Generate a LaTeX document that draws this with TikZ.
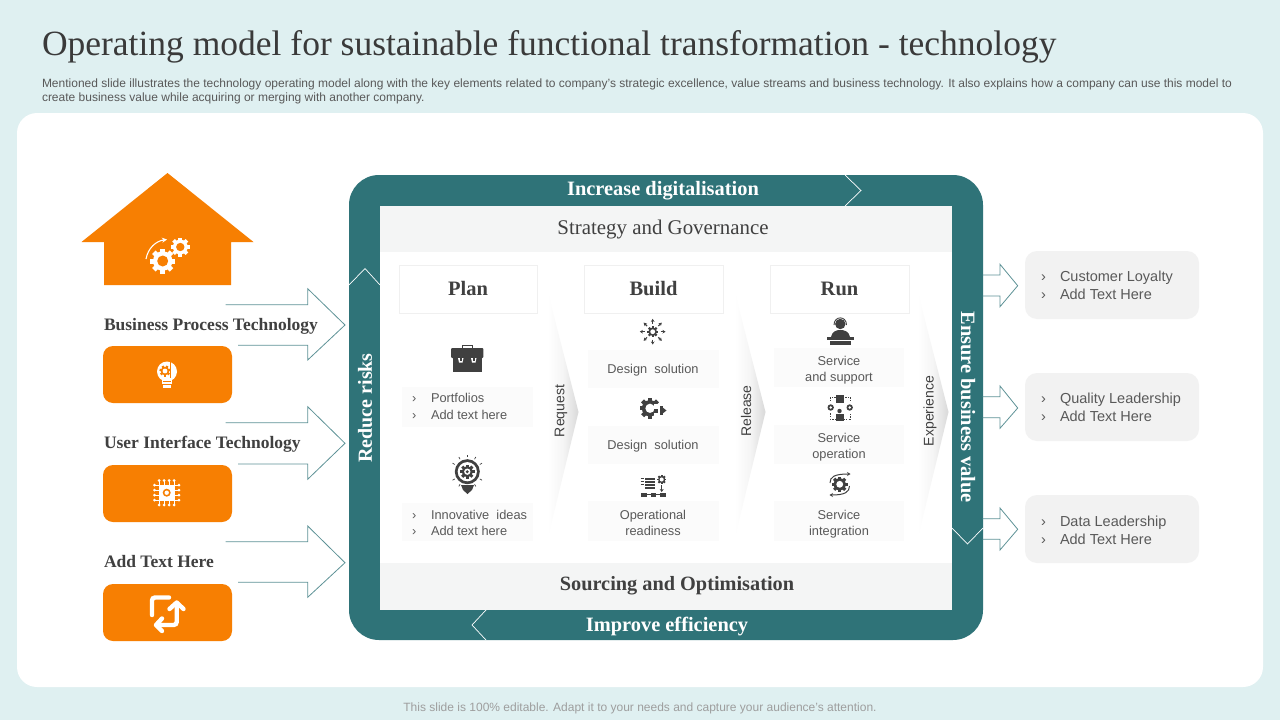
\documentclass[tikz,border=0pt]{standalone}
\usepackage{fontspec}
\setmainfont{Liberation Sans}
\newfontfamily\pal{Liberation Serif}
\usetikzlibrary{arrows.meta}
\definecolor{bgc}{HTML}{DFF0F1}
\definecolor{teal}{HTML}{2F7378}
\definecolor{orng}{HTML}{F77F02}
\definecolor{ink}{HTML}{404040}
\definecolor{txt}{HTML}{595959}
\definecolor{band}{HTML}{F4F5F5}
\definecolor{soft}{HTML}{FBFBFB}
\definecolor{pill}{HTML}{F2F2F2}
\definecolor{edge}{HTML}{F0F0F0}
\definecolor{arw}{HTML}{5E9297}
\pgfdeclarehorizontalshading{chev}{100bp}{color(0bp)=(white); color(25bp)=(white); color(50bp)=(black!4); color(75bp)=(black!15); color(100bp)=(black!15)}
\newcommand{\fs}[1]{\fontsize{#1}{#1}\selectfont}
\newcommand{\gearico}[6]{% x,y,r,teeth,fg,bg
  \fill[#5] (#1,#2) circle[radius=#3*0.78];
  \foreach \a in {1,...,#4}{
    \fill[#5,shift={(#1,#2)},rotate=\a*360/#4] (-#3*0.2,0) rectangle (#3*0.2,#3);
  }
  \fill[#6] (#1,#2) circle[radius=#3*0.44];
}
\tikzset{
  x=1pt,y=-1pt,
  lbl/.style={inner sep=0pt,outer sep=0pt},
  head/.style={lbl,font=\pal\bfseries\fs{20.5},text=ink},
  tech/.style={lbl,anchor=base west,yshift=-5.5pt,font=\pal\bfseries\fs{17.5},text=ink},
  bandw/.style={lbl,font=\pal\bfseries\fs{20.4},text=white},
  colbox/.style={draw=edge,fill=white,line width=0.6pt},
  softbox/.style={fill=soft},
  small/.style={lbl,anchor=base,yshift=-4.5pt,font=\fs{12.8},text=txt},
  smallw/.style={lbl,anchor=base west,yshift=-4.5pt,font=\fs{12.8},text=txt},
  rlab/.style={lbl,anchor=base west,yshift=-5pt,font=\fs{14.5},text=txt},
  flow/.style={lbl,font=\fs{14},text=ink,rotate=90},
  outarrow/.style={draw=arw,line width=0.8pt,line join=miter},
  notch/.style={draw=white,line width=0.7pt},
  orangebox/.style={fill=orng,rounded corners=10pt},
  pillbox/.style={fill=pill,rounded corners=12pt},
  icon/.style={fill=ink},
  wicon/.style={fill=white},
}
\begin{document}
\begin{tikzpicture}
\useasboundingbox (0,0) rectangle (1280,720);
\fill[bgc] (0,0) rectangle (1280,720);
\fill[white,rounded corners=20pt] (17,113) rectangle (1263,687);
\node[lbl,anchor=base west,font=\pal\fs{35.5},text=ink!90!black] (title) at (42,55) {Operating model for sustainable functional transformation - technology};
\node[lbl,anchor=base west,font=\fs{12},text=txt] (sub1) at (42,87) {Mentioned slide illustrates the technology operating model along with the key elements related to company’s strategic excellence, value streams and business technology. It also explains how a company can use this model to};
\node[lbl,anchor=base west,font=\fs{12},text=txt] (sub2) at (42,101) {create business value while acquiring or merging with another company.};
\node[lbl,font=\fs{12},text=black!38] (foot) at (640,708) {This slide is 100\% editable. Adapt it to your needs and capture your audience’s attention.};

% teal frame
\fill[teal,rounded corners=30pt] (349,175) rectangle (983,640);
\fill[white] (380,206) rectangle (952,610);
\fill[band] (380,206) rectangle (952,252);
\fill[band] (380,563) rectangle (952,610);
\draw[notch] (845,175) -- (861,190.5) -- (845,206);
\draw[notch] (349,285) -- (365,268.5) -- (380,285);
\draw[notch] (952,528) -- (967.5,544) -- (983,528);
\draw[notch] (486,610) -- (472,625) -- (486,640);
\node[bandw] (top) at (663,191) {Increase digitalisation};
\node[bandw] (bot) at (667,627) {Improve efficiency};
\node[bandw,rotate=90,font=\pal\bfseries\fs{20}] (lft) at (365,408) {Reduce risks};
\node[bandw,rotate=-90] (rgt) at (968,407) {Ensure business value};
\node[lbl,font=\pal\fs{20.9},text=ink] (strat) at (663,230) {Strategy and Governance};
\node[lbl,font=\pal\bfseries\fs{20.3},text=ink] (sourc) at (677,586) {Sourcing and Optimisation};

% house
\fill[orng] (167.5,173) -- (253.5,242) -- (231,242) -- (231,285) -- (104,285) -- (104,242) -- (81.5,242) -- cycle;
\gearico{162.7}{261}{12.5}{8}{white}{orng}
\gearico{180.3}{247}{9.5}{8}{white}{orng}
\draw[white,line width=1.1pt,-{Stealth[length=5pt,width=5pt]}] (146,259) .. controls (148,248) and (156,241) .. (167,239.5);

% left arrows
\foreach \t/\a/\m/\b/\c/\d in {304.7/288.7/325/345.3/360/0,422.7/406.7/443.3/464/479.3/1,541.7/526/562.7/582.3/597.3/2}{
  \draw[outarrow] (225.7,\t) -- (307.7,\t) -- (307.7,\a) -- (345,\m) -- (307.7,\c) -- (307.7,\b) -- (238,\b);
}
\node[tech] (t1) at (104,325) {Business Process Technology};
\node[tech] (t2) at (104,443) {User Interface Technology};
\node[tech] (t3) at (104,562) {Add Text Here};
\fill[orangebox] (103,346) rectangle (232,403);
\fill[orangebox] (103,465) rectangle (232,522);
\fill[orangebox] (103,584) rectangle (232,641);

% bulb icon
\fill[white] (167,371.5) circle[radius=10];
\fill[white] (162,378) rectangle (172,384);
\fill[white] (163,385) rectangle (171,387.5);
\gearico{165}{371}{5.5}{7}{orng}{white}
\fill[orng] (170,362) rectangle (171,378);
\fill[orng] (163,381) rectangle (171,381.8);
% chip icon
\foreach \p in {-7.5,-2.5,2.5,7.5}{
  \draw[white,line width=1.2pt] (166.7+\p,481) -- (166.7+\p,504.5);
  \draw[white,line width=1.2pt] (155,492.7+\p) -- (178.5,492.7+\p);
  \fill[white] (166.7+\p,480.5) circle[radius=1.5];
  \fill[white] (166.7+\p,505) circle[radius=1.5];
  \fill[white] (154.5,492.7+\p) circle[radius=1.5];
  \fill[white] (179,492.7+\p) circle[radius=1.5];
}
\fill[white] (159,485) rectangle (174.4,500.4);
\fill[orng] (166.7,492.7) circle[radius=4];
\fill[white] (166.7,492.7) circle[radius=2.2];
% swap icon
\draw[white,line width=4.4pt,line cap=round,rounded corners=3pt] (169,597.5) -- (152,597.5) -- (152,615);
\draw[white,line width=4.4pt,line cap=round,rounded corners=3pt] (160,625) -- (176.7,625) -- (176.7,607);
\draw[white,line width=4.4pt,line cap=round,line join=round] (169.5,609) -- (176.7,602.5) -- (183.5,609);
\draw[white,line width=4.4pt,line cap=round,line join=round] (162,618.5) -- (156,625) -- (162,631);

% column headers
\node[colbox,minimum width=138pt,minimum height=48pt,head] (plan) at (468,289) {};
\node[colbox,minimum width=139pt,minimum height=48pt,head] (build) at (653.5,289) {};
\node[colbox,minimum width=139pt,minimum height=48pt,head] (run) at (839.5,289) {};
\node[head,anchor=base,yshift=-6.5pt] (plant) at (plan.center) {Plan};
\node[head,anchor=base,yshift=-6.5pt] (buildt) at (build.center) {Build};
\node[head,anchor=base,yshift=-6.5pt] (runt) at (run.center) {Run};

% flow chevrons
\foreach \x in {548,735,918}{
  \shade[shading=chev] (\x,293) -- (\x+30.5,412) -- (\x,537) -- cycle;
}
\node[flow] (req) at (561,411) {Request};
\node[flow] (rel) at (746,411) {Release};
\node[flow] (exp) at (930,411) {Experience};

% soft boxes
\fill[softbox] (402,387) rectangle (533,427);
\fill[softbox] (402,503) rectangle (533,541);
\fill[softbox] (588,350) rectangle (719,388);
\fill[softbox] (588,426) rectangle (719,464);
\fill[softbox] (588,501) rectangle (719,541);
\fill[softbox] (774,348) rectangle (904,387);
\fill[softbox] (774,425) rectangle (904,464);
\fill[softbox] (774,501) rectangle (904,541);

\node[smallw] (p1a) at (412,398) {›};\node[smallw] (p1b) at (431,398) {Portfolios};
\node[smallw] (p1c) at (412,414.5) {›};\node[smallw] (p1d) at (431,414.5) {Add text here};
\node[smallw] (p2a) at (412,514.5) {›};\node[smallw] (p2b) at (431,514.5) {Innovative\ \ ideas};
\node[smallw] (p2c) at (412,530.5) {›};\node[smallw] (p2d) at (431,530.5) {Add text here};
\node[small] (b1) at (653,368.5) {Design\ \ solution};
\node[small] (b2) at (653,444.5) {Design\ \ solution};
\node[small] (b3a) at (653,514.5) {Operational};
\node[small] (b3b) at (653,530.5) {readiness};
\node[small] (r1a) at (839,360.5) {Service};
\node[small] (r1b) at (839,376.5) {and\ support};
\node[small] (r2a) at (839,437.5) {Service};
\node[small] (r2b) at (839,453.5) {operation};
\node[small] (r3a) at (839,514.5) {Service};
\node[small] (r3b) at (839,530.5) {integration};

% briefcase
\draw[ink,line width=1pt] (462,348) -- (462,345) -- (472.5,345) -- (472.5,348);
\fill[icon,rounded corners=1pt] (451,348) rectangle (483.3,358);
\fill[icon] (452.8,358) rectangle (482,372.3);
\fill[white] (458,358) -- (463.5,358) -- (462.5,362.5) -- (459,362.5) -- cycle;
\fill[white] (471,358) -- (476.5,358) -- (475.5,362.5) -- (472,362.5) -- cycle;
\fill[ink] (459.7,358) rectangle (461.8,360.8);
\fill[ink] (472.7,358) rectangle (474.8,360.8);
% idea bulb
\foreach \a in {-60,-30,0,30,60,120,150,180,210,240}{
  \draw[ink,line width=0.7pt,shift={(467.3,471.7)},rotate=\a] (0,-14.5) -- (0,-17);
}
\fill[ink] (467.3,471.7) circle[radius=12.5];
\fill[white] (467.3,471.7) circle[radius=9.6];
\gearico{467.3}{471.7}{7.2}{8}{ink}{white}
\fill[ink] (467.3,471.7) circle[radius=1.6];
\fill[icon] (461,485) -- (474,485) -- (472,490) -- (467.5,494) -- (463,490) -- cycle;

% build icon 1
\gearico{652.7}{331.7}{5.5}{8}{ink}{white}
\foreach \a in {0,45,...,315}{
  \draw[ink,line width=1.1pt,shift={(652.7,331.7)},rotate=\a,-{Stealth[length=3pt,width=3.6pt]}] (0,-8) -- (0,-12.8);
}
% build icon 2
\gearico{650}{408.3}{10.5}{8}{ink}{white}
\fill[white] (654,404) rectangle (666,418);
\fill[icon] (654,408.5) rectangle (658,412.5);
\fill[icon] (660,405.5) rectangle (663,415);
\fill[icon] (662,407) -- (666.5,410.5) -- (662,414) -- cycle;
% build icon 3
\foreach \yy in {477.5,480.5,483.5,486.5}{\fill[icon] (645,\yy) rectangle (655,\yy+2);}
\foreach \yy in {478.5,481.5,484.5}{\draw[ink,line width=0.5pt] (640.5,\yy) -- (644,\yy);}
\gearico{661.7}{479.5}{4.6}{8}{ink}{white}
\draw[ink,line width=1pt,-{Stealth[length=3pt,width=4pt]}] (661.7,485) -- (661.7,492);
\foreach \xx in {641,650.5,660}{\fill[icon] (\xx,492.5) rectangle (\xx+5.5,497);}
\draw[ink,line width=0.6pt] (646,494.7) -- (660,494.7);
% run icon 1
\fill[icon] (840.3,324) circle[radius=5.2];
\draw[ink,line width=0.9pt] (834,325) .. controls (834,315.5) and (846.5,315.5) .. (846.5,325);
\fill[icon] (831,337) .. controls (832,331) and (837,330) .. (840.3,330) .. controls (844,330) and (849,331) .. (850,337) -- cycle;
\fill[icon] (827,337.2) rectangle (854,340);
\fill[icon] (830,340.8) rectangle (851,345);
% run icon 2
\draw[ink,line width=0.5pt,dash pattern=on 1.5pt off 1.2pt] (830,397) rectangle (850,419);
\fill[icon] (836,395) rectangle (843.5,403);
\fill[white] (827,401) rectangle (834,413);\fill[white] (846,401) rectangle (853,413);
\fill[icon] (830.7,407.5) circle[radius=3.2];\fill[white] (830.7,407.5) circle[radius=1.4];
\fill[icon] (849.7,407.5) circle[radius=3.2];\fill[white] (849.7,407.5) circle[radius=1.4];
\fill[icon] (839.5,411) circle[radius=2.2];
\fill[icon] (835.5,413.5) rectangle (843.5,420.5);
% run icon 3
\gearico{839.7}{484.3}{7.8}{8}{ink}{white}
\draw[ink,line width=1pt,-{Stealth[length=3.5pt,width=4pt]}] (830,483) .. controls (830,477) and (834,474) .. (850.5,474);
\draw[ink,line width=1pt,-{Stealth[length=3.5pt,width=4pt]}] (849.5,486) .. controls (849.5,492) and (845,495) .. (829.5,495);

% output arrows
\foreach \t/\a/\m/\b/\c in {275/264.3/285.7/296/306.7,396.7/386/408/417.7/428.3,518.7/508/529.3/539.3/550}{
  \draw[outarrow] (982.7,\t) -- (1000,\t) -- (1000,\a) -- (1017.7,\m) -- (1000,\c) -- (1000,\b) -- (982.7,\b);
}
\fill[pillbox] (1025,251) rectangle (1199,319);
\fill[pillbox] (1025,373) rectangle (1199,441);
\fill[pillbox] (1025,495) rectangle (1199,563);
\node[rlab] (o1a) at (1041,276) {›};\node[rlab] (o1b) at (1060,276) {Customer Loyalty};
\node[rlab] (o1c) at (1041,294) {›};\node[rlab] (o1d) at (1060,294) {Add Text Here};
\node[rlab] (o2a) at (1041,398) {›};\node[rlab] (o2b) at (1060,398) {Quality Leadership};
\node[rlab] (o2c) at (1041,416) {›};\node[rlab] (o2d) at (1060,416) {Add Text Here};
\node[rlab] (o3a) at (1041,521) {›};\node[rlab] (o3b) at (1060,521) {Data Leadership};
\node[rlab] (o3c) at (1041,539) {›};\node[rlab] (o3d) at (1060,539) {Add Text Here};
\end{tikzpicture}
\end{document}
